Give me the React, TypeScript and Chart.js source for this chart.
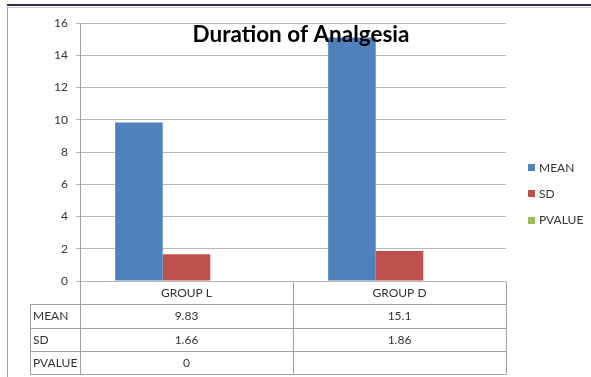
import { useEffect, useRef } from "react";
import { Chart, registerables } from "chart.js";

Chart.register(...registerables);

const groups = ["GROUP L", "GROUP D"];
const meanValues = [9.83, 15.1];
const sdValues = [1.66, 1.86];
const pValues: (number | null)[] = [0, null];
const yTicks = [0, 2, 4, 6, 8, 10, 12, 14, 16];
const chartTitle = "Duration of Analgesia";

const COLORS = { mean: "#4F81BD", sd: "#C0504D", pvalue: "#9BBB59" };
const FONT = "Lato, 'Open Sans', sans-serif";

const fmt = (v: number | null) => (v === null || v === undefined ? "" : String(v));

// Draws the outer frame, the data table under the axis, the title and the legend.
const decorations = {
  id: "decorations",
  afterDraw(chart: any) {
    const { ctx, chartArea } = chart;
    const left = chartArea.left;
    const right = chartArea.right;
    const bottom = chartArea.bottom;
    const rowH = 23.3;
    const labelLeft = 30;
    const xScale = chart.scales.x;

    ctx.save();
    // frame
    ctx.fillStyle = "#2f2f5c";
    ctx.fillRect(7, 4, chart.width - 7, 2);
    ctx.fillStyle = "#c8c8c8";
    ctx.fillRect(7, 7, chart.width - 7, 1);
    ctx.fillStyle = "#a6a6a6";
    ctx.fillRect(7, 7, 1, chart.height - 7);

    // table grid
    ctx.strokeStyle = "#a0a0a0";
    ctx.lineWidth = 1;
    const rows = [
      { label: "MEAN", values: meanValues },
      { label: "SD", values: sdValues },
      { label: "PVALUE", values: pValues },
    ];
    const tableBottom = bottom + rowH * (rows.length + 1);
    ctx.beginPath();
    for (let i = 1; i <= rows.length + 1; i++) {
      const y = Math.round(bottom + rowH * i) + 0.5;
      ctx.moveTo(labelLeft, y);
      ctx.lineTo(right, y);
    }
    const hdrY = Math.round(bottom + rowH) + 0.5;
    ctx.moveTo(labelLeft + 0.5, hdrY);
    ctx.lineTo(labelLeft + 0.5, Math.round(tableBottom) + 0.5);
    ctx.moveTo(Math.round(left) + 0.5, bottom);
    ctx.lineTo(Math.round(left) + 0.5, Math.round(tableBottom) + 0.5);
    const colW = (right - left) / groups.length;
    for (let c = 1; c <= groups.length; c++) {
      const x = Math.round(left + colW * c) + 0.5;
      ctx.moveTo(x, Math.round(bottom) + 0.5);
      ctx.lineTo(x, Math.round(tableBottom) + 0.5);
    }
    ctx.stroke();

    // table text
    ctx.fillStyle = "#333333";
    ctx.font = `12px ${FONT}`;
    ctx.textBaseline = "middle";
    ctx.textAlign = "center";
    groups.forEach((g, i) => {
      const cx = xScale.getPixelForValue(i);
      ctx.fillText(g, cx, bottom + rowH / 2 + 0.5);
      rows.forEach((r, ri) => {
        ctx.fillText(fmt(r.values[i]), cx, bottom + rowH * (ri + 1.5) + 0.5);
      });
    });
    ctx.textAlign = "left";
    rows.forEach((r, ri) => {
      ctx.fillText(r.label, labelLeft + 3, bottom + rowH * (ri + 1.5) + 0.5);
    });

    // legend
    ctx.font = `12px ${FONT}`;
    chart.data.datasets.forEach((ds: any, i: number) => {
      const y = 168 + i * 26.3;
      ctx.fillStyle = ds.backgroundColor;
      ctx.fillRect(528, Math.round(y - 4), 7, 7);
      ctx.fillStyle = "#333333";
      ctx.fillText(ds.label, 539, y);
    });

    // title
    ctx.fillStyle = "#000000";
    ctx.font = `bold 22.5px ${FONT}`;
    ctx.textAlign = "center";
    ctx.textBaseline = "middle";
    ctx.fillText(chartTitle, 301, 35);
    ctx.restore();
  },
};

export default function App() {
  const canvasRef = useRef<HTMLCanvasElement | null>(null);

  useEffect(() => {
    if (!canvasRef.current) return;
    const chart = new Chart(canvasRef.current, {
      type: "bar",
      data: {
        labels: groups,
        datasets: [
          { label: "MEAN", data: meanValues, backgroundColor: COLORS.mean },
          { label: "SD", data: sdValues, backgroundColor: COLORS.sd },
          { label: "PVALUE", data: pValues, backgroundColor: COLORS.pvalue },
        ],
      },
      options: {
        responsive: false,
        animation: false,
        layout: { padding: { left: 0, right: 85, top: 23, bottom: 96 } },
        datasets: { bar: { categoryPercentage: 0.67, barPercentage: 1 } },
        plugins: { legend: { display: false }, title: { display: false }, tooltip: { enabled: false } },
        scales: {
          x: { display: false },
          y: {
            min: 0,
            max: 16,
            afterFit: (s: any) => {
              s.width = 80;
            },
            afterBuildTicks: (s: any) => {
              s.ticks = yTicks.map((v) => ({ value: v }));
            },
            grid: { color: "#b5b5b5", tickLength: 4 },
            border: { color: "#a0a0a0" },
            ticks: { padding: 8, color: "#333333", font: { family: FONT, size: 12 } },
          },
        },
      },
      plugins: [decorations],
    });
    return () => chart.destroy();
  }, []);

  return (
    <div style={{ position: "absolute", left: 0, top: 0, width: 591, height: 377, background: "#ffffff" }}>
      <canvas ref={canvasRef} width={591} height={377} style={{ display: "block" }} />
    </div>
  );
}
